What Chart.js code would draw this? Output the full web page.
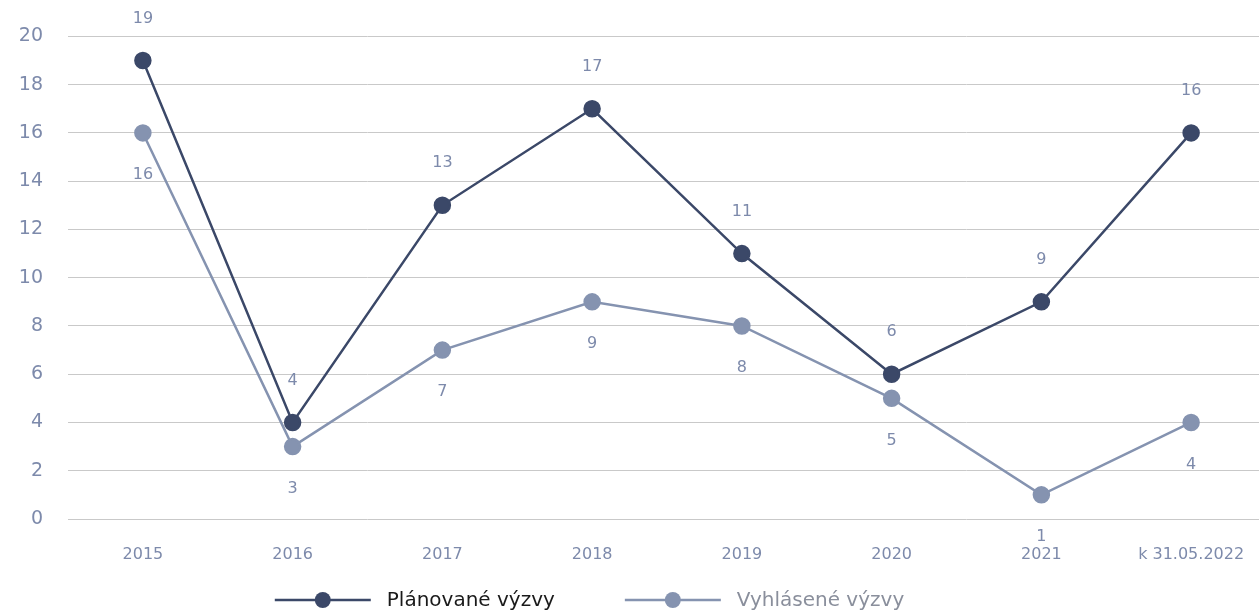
<!DOCTYPE html>
<html>
<head>
<meta charset="utf-8">
<script src="https://cdn.jsdelivr.net/npm/chart.js@4"></script>
<style>
  html, body { margin: 0; background: #fff; overflow: hidden; }
</style>
</head>
<body>
<canvas id="vyzvyChart" width="1276" height="612"></canvas>
<script>
// Data
const roky = ['2015', '2016', '2017', '2018', '2019', '2020', '2021', 'k 31.05.2022'];
const planovane = [19, 4, 13, 17, 11, 6, 9, 16];
const vyhlasene = [16, 3, 7, 9, 8, 5, 1, 4];
const yTicks = [0, 2, 4, 6, 8, 10, 12, 14, 16, 18, 20];

const tmava = '#3b4868';
const svetla = '#8593b0';
const textColor = '#7d8aab';
const font = '"DejaVu Sans", sans-serif';
const sirkaOkna = 1259;

// popisky hodnot nad / pod bodmi
const popisky = {
    id: 'popisky',
    afterDatasetsDraw(chart) {
        const ctx = chart.ctx;
        ctx.save();
        ctx.font = '16px ' + font;
        ctx.fillStyle = textColor;
        ctx.textAlign = 'center';
        ctx.textBaseline = 'middle';
        chart.data.datasets.forEach((ds, i) => {
            const meta = chart.getDatasetMeta(i);
            meta.data.forEach((pt, j) => {
                const dy = i === 0 ? -42 : 42;
                ctx.fillText(ds.data[j], pt.x, pt.y + dy);
            });
        });
        ctx.restore();
    }
};

// legenda dole: ciara s bodkou + text
const legenda = {
    id: 'legenda',
    afterDraw(chart) {
        const ctx = chart.ctx;
        const farbyTextu = ['#1a1a1a', '#8a8f9c'];
        const iconW = 96, medzera = 16, odstup = 70;
        ctx.save();
        ctx.font = '20px ' + font;
        const polozky = chart.data.datasets.map(ds => ({
            ds: ds,
            w: iconW + medzera + ctx.measureText(ds.label).width
        }));
        const spolu = polozky.reduce((s, p) => s + p.w, 0) + odstup * (polozky.length - 1);
        let x = sirkaOkna / 2 - spolu / 2 - 40;
        const y = 600;
        polozky.forEach((p, i) => {
            ctx.strokeStyle = p.ds.borderColor;
            ctx.lineWidth = 2.5;
            ctx.beginPath();
            ctx.moveTo(x, y);
            ctx.lineTo(x + iconW, y);
            ctx.stroke();
            ctx.fillStyle = p.ds.borderColor;
            ctx.beginPath();
            ctx.arc(x + iconW / 2, y, 8, 0, Math.PI * 2);
            ctx.fill();
            ctx.fillStyle = farbyTextu[i];
            ctx.textBaseline = 'middle';
            ctx.textAlign = 'left';
            ctx.fillText(p.ds.label, x + iconW + medzera, y + 1);
            x += p.w + odstup;
        });
        ctx.restore();
    }
};

const ctx = document.getElementById('vyzvyChart').getContext('2d');
new Chart(ctx, {
    type: 'line',
    data: {
        labels: roky,
        datasets: [{
            label: 'Plánované výzvy',
            data: planovane,
            borderColor: tmava,
            backgroundColor: tmava,
            borderWidth: 2.5,
            pointRadius: 7.5,
            pointHoverRadius: 7.5,
            tension: 0
        }, {
            label: 'Vyhlásené výzvy',
            data: vyhlasene,
            borderColor: svetla,
            backgroundColor: svetla,
            borderWidth: 2.5,
            pointRadius: 7.5,
            pointHoverRadius: 7.5,
            tension: 0
        }]
    },
    options: {
        responsive: false,
        animation: false,
        layout: {
            padding: { top: 31, left: 0, right: 0, bottom: 40 }
        },
        plugins: {
            tooltip: { enabled: false },
            legend: { display: false }
        },
        scales: {
            x: {
                offset: true,
                grid: { display: false },
                border: { display: false },
                ticks: {
                    color: textColor,
                    font: { family: font, size: 16 },
                    padding: 18,
                    maxRotation: 0
                },
                afterFit(scale) {
                    scale.height = 53;
                    scale.paddingLeft = 0;
                    scale.paddingRight = 0;
                }
            },
            y: {
                min: 0,
                max: 20,
                afterBuildTicks(axis) {
                    axis.ticks = yTicks.map(v => ({ value: v }));
                },
                grid: { color: '#c9c9c9', lineWidth: 1, drawTicks: false },
                border: { display: false },
                ticks: {
                    color: textColor,
                    font: { family: font, size: 19 },
                    padding: 25
                },
                afterFit(scale) {
                    scale.width = 68;
                }
            }
        }
    },
    plugins: [popisky, legenda]
});
</script>
</body>
</html>
